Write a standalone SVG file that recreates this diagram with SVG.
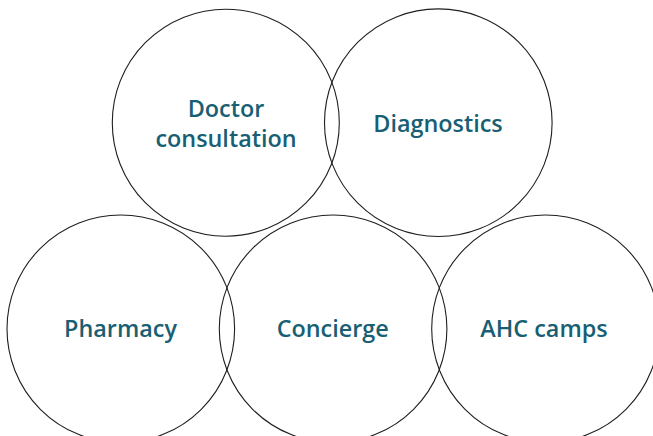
<svg xmlns="http://www.w3.org/2000/svg" width="653" height="436" viewBox="0 0 653 436">
  <style>
    .ring { fill: none; stroke: #1e1e1e; stroke-width: 1.1; }
    .label { font-family: "Open Sans", "Lato", "Liberation Sans", sans-serif; font-weight: 600; font-size: 23.4px; fill: #195f74; text-anchor: middle; }
  </style>
  <rect width="653" height="436" fill="#ffffff"/>
  <g id="doctor-consultation">
    <circle class="ring" cx="225.8" cy="122.7" r="113.5"/>
    <text class="label" x="226" y="117">Doctor</text>
    <text class="label" x="226" y="146.5">consultation</text>
  </g>
  <g id="diagnostics">
    <circle class="ring" cx="438.3" cy="122.7" r="113.8"/>
    <text class="label" x="438" y="131.5">Diagnostics</text>
  </g>
  <g id="pharmacy">
    <circle class="ring" cx="120.8" cy="328.8" r="113.8"/>
    <text class="label" x="120.5" y="336.5">Pharmacy</text>
  </g>
  <g id="concierge">
    <circle class="ring" cx="333.1" cy="328.8" r="113.8"/>
    <text class="label" x="332.7" y="336.5">Concierge</text>
  </g>
  <g id="ahc-camps">
    <circle class="ring" cx="545.5" cy="328.8" r="113.8"/>
    <text class="label" x="544" y="336.5">AHC camps</text>
  </g>
</svg>
